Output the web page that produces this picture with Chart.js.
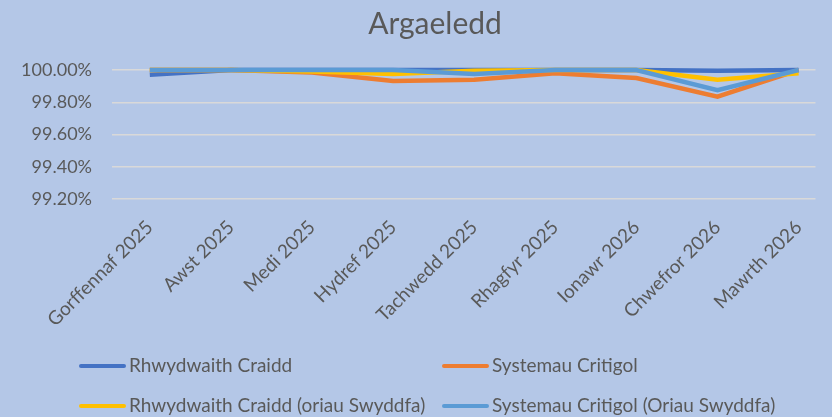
<!DOCTYPE html>
<html><head><meta charset="utf-8">
<script src="https://cdn.jsdelivr.net/npm/chart.js@4"></script>
<style>
html,body{margin:0;padding:0;background:#B4C7E7;}
#wrap{position:relative;width:832px;height:417px;overflow:hidden;background:#B4C7E7;}
#c{position:absolute;left:0;top:0;}
#title{position:absolute;left:235px;width:400px;top:3px;text-align:center;font-family:Lato,"Open Sans",sans-serif;font-size:30px;line-height:38px;color:#595959;}
.lg{position:absolute;font-family:Lato,"Open Sans",sans-serif;font-size:19px;color:#595959;white-space:nowrap;line-height:22px;height:22px;}
.lg .s{display:inline-block;width:47px;height:4px;border-radius:2px;vertical-align:middle;margin-right:3px;position:relative;top:-1px;}
</style></head>
<body>
<div id="wrap">
<canvas id="c" width="832" height="417"></canvas>
<div id="title">Argaeledd</div>
<div id="legend"></div>
</div>
<script>
const categories = ["Gorffennaf 2025","Awst 2025","Medi 2025","Hydref 2025","Tachwedd 2025","Rhagfyr 2025","Ionawr 2026","Chwefror 2026","Mawrth 2026"];
const seriesNames = ["Rhwydwaith Craidd","Systemau Critigol","Rhwydwaith Craidd (oriau Swyddfa)","Systemau Critigol (Oriau Swyddfa)"];
const rhwydwaithCraidd = [99.97,100,100,100,100,100,100,99.995,100];
const systemauCritigol = [100,100,99.985,99.932,99.94,99.98,99.95,99.835,100];
const rhwydwaithOriau = [100,100,99.99,99.975,99.995,100,100,99.94,99.98];
const systemauOriau = [100,100,100,100,99.975,100,100,99.875,100];
const yTicks = [99.2,99.4,99.6,99.8,100];

const colors = ["#4472C4","#ED7D31","#FFC000","#5B9BD5"];
const allSeries = [rhwydwaithCraidd, systemauCritigol, rhwydwaithOriau, systemauOriau];

const datasets = allSeries.map((arr, k) => ({
  label: seriesNames[k],
  data: arr.map((v, i) => ({x: i, y: v})),
  borderColor: colors[k],
  backgroundColor: colors[k],
  borderWidth: 4.5,
  pointRadius: 0,
  tension: 0,
  order: 4 - k,
  clip: 4
}));

const FONT = "Lato";
new Chart(document.getElementById('c'), {
  type: 'line',
  data: { datasets },
  options: {
    responsive: false,
    animation: false,
    events: [],
    layout: { padding: { top: 70, left: 0, right: 12, bottom: 0 } },
    plugins: {
      legend: { display: false },
      tooltip: { enabled: false },
      title: { display: false }
    },
    scales: {
      x: {
        type: 'linear', min: -0.466, max: 8.208,
        afterBuildTicks: s => { s.ticks = categories.map((c, i) => ({ value: i })); },
        afterFit: s => { s.height = 218; },
        grid: { display: false, drawTicks: false },
        border: { display: false },
        ticks: {
          autoSkip: false, maxRotation: 45, minRotation: 45, padding: 17,
          color: "#595959", font: { family: FONT, size: 19 },
          callback: v => categories[v]
        }
      },
      y: {
        min: 99.2, max: 100,
        afterBuildTicks: s => { s.ticks = yTicks.map(v => ({ value: v })); },
        afterFit: s => { s.width = 112; },
        grid: { color: "#D9D9D9", lineWidth: 1.5, drawTicks: false },
        border: { display: false },
        ticks: {
          padding: 20, color: "#595959", font: { family: FONT, size: 18 },
          callback: v => v.toFixed(2) + "%"
        }
      }
    }
  }
});

const pos = [[79,354],[442,354],[79,394],[442,394]];
const lg = document.getElementById('legend');
seriesNames.forEach((n, k) => {
  const d = document.createElement('div');
  d.className = 'lg';
  d.style.left = pos[k][0] + 'px';
  d.style.top = pos[k][1] + 'px';
  d.innerHTML = '<span class="s" style="background:' + colors[k] + '"></span>' + n;
  lg.appendChild(d);
});
</script>
</body></html>
